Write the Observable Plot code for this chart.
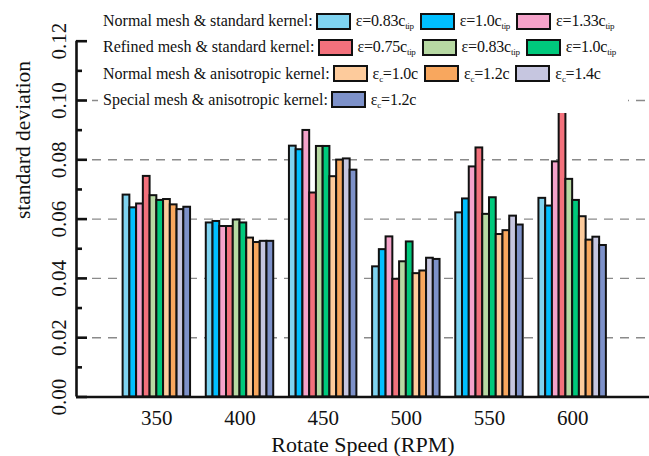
<!DOCTYPE html>
<html>
<head>
<meta charset="utf-8">
<script src="https://cdn.jsdelivr.net/npm/d3@7"></script>
<script src="https://cdn.jsdelivr.net/npm/@observablehq/plot@0.6"></script>
<style>
  html, body { margin: 0; padding: 0; background: #fff; }
  #wrap { position: relative; width: 649px; height: 456px; font-family: "Liberation Serif", "Times New Roman", serif; }
  #wrap svg, #wrap svg text { font-family: "Liberation Serif", "Times New Roman", serif !important; }
  #legend { position: absolute; left: 98px; top: 0; width: 530px; height: 113px; background: #fff; }
  .row { position: absolute; left: 5px; height: 22px; display: flex; align-items: center; font-size: 16px; color: #111; white-space: nowrap; }
  .sw { display: inline-block; width: 31px; height: 13px; border: 2.5px solid #111; margin: 0 5px 0 3px; }
  .lab { margin-right: 3px; letter-spacing: -0.2px; }
  sub { font-size: 9px; vertical-align: -3px; line-height: 0; letter-spacing: -0.3px; }
</style>
</head>
<body>
<div id="wrap"></div>
<script>
// ---- data ----
const speeds = ["350", "400", "450", "500", "550", "600"];
const seriesNames = [
  "Normal ε=0.83c_tip", "Normal ε=1.0c_tip", "Normal ε=1.33c_tip",
  "Refined ε=0.75c_tip", "Refined ε=0.83c_tip", "Refined ε=1.0c_tip",
  "Aniso εc=1.0c", "Aniso εc=1.2c", "Aniso εc=1.4c",
  "Special εc=1.2c"
];
const seriesColors = ["#7fd3f0", "#00bfff", "#f5a3ca", "#f3717c", "#b7d9a3", "#00c97c", "#fdcb9c", "#f8a75e", "#c6c6e0", "#7d91c9"];
const normalStd083 = [0.0681, 0.0587, 0.0846, 0.0439, 0.0621, 0.0670];
const normalStd100 = [0.0638, 0.0592, 0.0834, 0.0497, 0.0668, 0.0644];
const normalStd133 = [0.0651, 0.0575, 0.0899, 0.0540, 0.0776, 0.0793];
const refinedStd075 = [0.0744, 0.0575, 0.0688, 0.0397, 0.0840, 0.1000];
const refinedStd083 = [0.0679, 0.0597, 0.0845, 0.0456, 0.0616, 0.0734];
const refinedStd100 = [0.0663, 0.0587, 0.0845, 0.0523, 0.0672, 0.0663];
const normalAniso10 = [0.0666, 0.0536, 0.0743, 0.0416, 0.0548, 0.0608];
const normalAniso12 = [0.0648, 0.0521, 0.0799, 0.0425, 0.0561, 0.0529];
const normalAniso14 = [0.0632, 0.0525, 0.0803, 0.0468, 0.0610, 0.0539];
const specialAniso12 = [0.0640, 0.0525, 0.0765, 0.0464, 0.0580, 0.0511];
const yTicks = [0, 0.02, 0.04, 0.06, 0.08, 0.10, 0.12];
const yMinorTicks = [0.01, 0.03, 0.05, 0.07, 0.09, 0.11];
const gridTicks = [0.02, 0.04, 0.06, 0.08, 0.10];

const allSeries = [normalStd083, normalStd100, normalStd133, refinedStd075, refinedStd083,
  refinedStd100, normalAniso10, normalAniso12, normalAniso14, specialAniso12];

// ---- layout of groups (in category units) ----
const groupWidth = 0.811;
const barW = groupWidth / allSeries.length;
const table = [];
allSeries.forEach((vals, k) => {
  vals.forEach((v, i) => {
    const x1 = i - groupWidth / 2 + k * barW;
    table.push({speed: speeds[i], series: seriesNames[k], value: v, x1, x2: x1 + barW});
  });
});
const xDomain = [-0.966, speeds.length - 1 + 0.924];
const serif = "Liberation Serif";

const chart = Plot.plot({
  width: 649,
  height: 456,
  marginLeft: 76,
  marginRight: 0,
  marginTop: 40.7,
  marginBottom: 59.5,
  style: {fontFamily: serif, background: "transparent", color: "#111"},
  x: {type: "linear", domain: xDomain, label: null},
  y: {domain: [0, 0.12], label: null},
  color: {domain: seriesNames, range: seriesColors},
  marks: [
    Plot.ruleY(gridTicks, {stroke: "#8a8a8a", strokeWidth: 1.4, strokeDasharray: "9,7"}),
    Plot.rectY(table, {x1: "x1", x2: "x2", y: "value", fill: "series", stroke: "#111", strokeWidth: 2}),
    Plot.ruleY([0], {stroke: "#111", strokeWidth: 2.6}),
    Plot.ruleX([xDomain[0]], {y1: 0, y2: 0.12, stroke: "#111", strokeWidth: 2.6}),
    // inward major / minor ticks
    Plot.ruleY(yTicks, {x1: xDomain[0], x2: xDomain[0], insetRight: -11, stroke: "#111", strokeWidth: 2.6}),
    Plot.ruleY(yMinorTicks, {x1: xDomain[0], x2: xDomain[0], insetRight: -6, stroke: "#111", strokeWidth: 2.6}),
    Plot.axisY(yTicks, {tickSize: 0, tickPadding: 17.5, rotate: -90, textAnchor: "middle", fontSize: 21,
      fontFamily: serif, tickFormat: d3.format(".2f"), label: null}),
    Plot.axisX(d3.range(speeds.length), {tickSize: 0, tickPadding: 13, fontSize: 21, fontFamily: serif,
      tickFormat: i => speeds[i], label: null}),
    Plot.text(["Rotate Speed (RPM)"], {frameAnchor: "bottom", dy: 55, dx: 0, fontSize: 22, fontFamily: serif, fill: "#111"}),
    Plot.text(["standard deviation"], {frameAnchor: "left", dx: -53, rotate: -90, fontSize: 21.5, fontFamily: serif, fill: "#111"})
  ]
});

const wrap = document.getElementById("wrap");
wrap.appendChild(chart);

// ---- legend (HTML overlay, drawn over the plot top) ----
const legendRows = [
  {title: "Normal mesh & standard kernel:", items: [[0, "ε=0.83c<sub>tip</sub>"], [1, "ε=1.0c<sub>tip</sub>"], [2, "ε=1.33c<sub>tip</sub>"]]},
  {title: "Refined mesh & standard kernel:", items: [[3, "ε=0.75c<sub>tip</sub>"], [4, "ε=0.83c<sub>tip</sub>"], [5, "ε=1.0c<sub>tip</sub>"]]},
  {title: "Normal mesh & anisotropic kernel:", items: [[6, "ε<sub>c</sub>=1.0c"], [7, "ε<sub>c</sub>=1.2c"], [8, "ε<sub>c</sub>=1.4c"]]},
  {title: "Special mesh & anisotropic kernel:", items: [[9, "ε<sub>c</sub>=1.2c"]]}
];
const legend = document.createElement("div");
legend.id = "legend";
legendRows.forEach((r, j) => {
  const row = document.createElement("div");
  row.className = "row";
  row.style.top = (10 + j * 26.3) + "px";
  let html = `<span>${r.title}</span>`;
  r.items.forEach(([k, lab]) => {
    html += `<span class="sw" style="background:${seriesColors[k]}"></span><span class="lab">${lab}</span>`;
  });
  row.innerHTML = html;
  legend.appendChild(row);
});
wrap.appendChild(legend);
</script>
</body>
</html>
